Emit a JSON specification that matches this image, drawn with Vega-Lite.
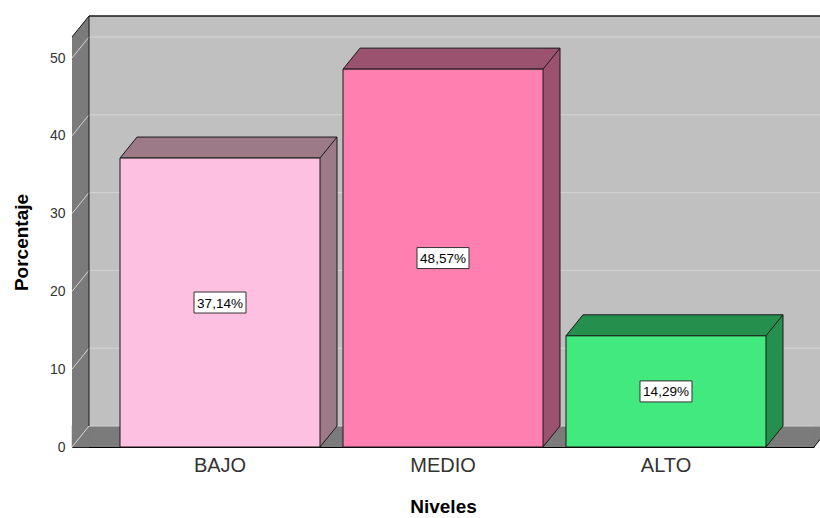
{
  "$schema": "https://vega.github.io/schema/vega-lite/v6.json",
  "autosize": {"type": "none"},
  "padding": {"left": 72, "top": 37, "right": 6, "bottom": 71},
  "width": 742,
  "height": 410,
  "background": "#ffffff",
  "config": {
    "font": "Liberation Sans",
    "view": {"stroke": null},
    "axis": {"zindex": 1}
  },
  "datasets": {
    "niveles": [
      {"Niveles": "BAJO", "Porcentaje": 37.14},
      {"Niveles": "MEDIO", "Porcentaje": 48.57},
      {"Niveles": "ALTO", "Porcentaje": 14.29}
    ],
    "marcas": [
      {"v": 0}, {"v": 10}, {"v": 20}, {"v": 30}, {"v": 40}, {"v": 50}
    ]
  },
  "resolve": {"scale": {"fill": "independent"}},
  "encoding": {
    "x": {
      "field": "Niveles",
      "type": "nominal",
      "sort": ["BAJO", "MEDIO", "ALTO"],
      "scale": {"domain": ["BAJO", "MEDIO", "ALTO"], "paddingInner": 0.103139, "paddingOuter": 0.215247},
      "axis": {
        "title": "Niveles",
        "labelAngle": 0,
        "labelFontSize": 20,
        "labelColor": "#333333",
        "labelPadding": 8,
        "ticks": false,
        "domainColor": "#000000",
        "titleFontSize": 19,
        "titleFontWeight": "bold",
        "titleColor": "#000000",
        "titlePadding": 22
      }
    },
    "y": {
      "field": "Porcentaje",
      "type": "quantitative",
      "scale": {"domain": [0, 52.7], "nice": false, "zero": true},
      "axis": {
        "title": "Porcentaje",
        "values": [0, 10, 20, 30, 40, 50],
        "grid": false,
        "ticks": false,
        "labelFontSize": 14,
        "labelColor": "#333333",
        "labelPadding": 7,
        "domainColor": "#000000",
        "titleFontSize": 19,
        "titleFontWeight": "bold",
        "titleColor": "#000000",
        "titlePadding": 18
      }
    }
  },
  "layer": [
    {
      "description": "back wall",
      "data": {"name": "marcas"},
      "transform": [{"filter": "datum.v == 0"}],
      "mark": {"type": "rect", "fill": "#c0c0c0", "xOffset": 17, "x2Offset": 17, "yOffset": -21, "y2Offset": -21},
      "encoding": {
        "x": {"value": 0},
        "x2": {"value": "width"},
        "y": {"field": "v", "type": "quantitative"},
        "y2": {"value": 0}
      }
    },
    {
      "description": "left wall body",
      "data": {"name": "marcas"},
      "transform": [{"filter": "datum.v == 0"}],
      "mark": {"type": "rect", "fill": "#7b7b7b", "yOffset": -21},
      "encoding": {
        "x": {"value": 0},
        "x2": {"value": 17},
        "y": {"field": "v", "type": "quantitative"},
        "y2": {"value": 0}
      }
    },
    {
      "description": "left wall top corner",
      "data": {"name": "marcas"},
      "transform": [{"filter": "datum.v == 0"}],
      "mark": {"type": "point", "shape": "M0,0L17,-21L17,0Z", "size": 4, "filled": true, "fill": "#7b7b7b", "stroke": "#7b7b7b", "strokeWidth": 0.5, "opacity": 1},
      "encoding": {"x": {"value": 0}, "y": {"value": 0}}
    },
    {
      "description": "left wall bottom corner",
      "data": {"name": "marcas"},
      "transform": [{"filter": "datum.v == 0"}],
      "mark": {"type": "point", "shape": "M0,-21L0,0L17,-21Z", "size": 4, "filled": true, "fill": "#7b7b7b", "stroke": "#7b7b7b", "strokeWidth": 0.5, "opacity": 1},
      "encoding": {"x": {"value": 0}, "y": {"field": "v", "type": "quantitative"}}
    },
    {
      "description": "floor body",
      "data": {"name": "marcas"},
      "transform": [{"filter": "datum.v == 0"}],
      "mark": {"type": "rect", "fill": "#7b7b7b", "xOffset": 17, "yOffset": -21},
      "encoding": {
        "x": {"value": 0},
        "x2": {"value": "width"},
        "y": {"field": "v", "type": "quantitative"},
        "y2": {"value": "height"}
      }
    },
    {
      "description": "floor left corner",
      "data": {"name": "marcas"},
      "transform": [{"filter": "datum.v == 0"}],
      "mark": {"type": "point", "shape": "M0,0L17,-21L17,0Z", "size": 4, "filled": true, "fill": "#7b7b7b", "stroke": "#7b7b7b", "strokeWidth": 0.5, "opacity": 1},
      "encoding": {"x": {"value": 0}, "y": {"field": "v", "type": "quantitative"}}
    },
    {
      "description": "floor right corner",
      "data": {"name": "marcas"},
      "transform": [{"filter": "datum.v == 0"}],
      "mark": {"type": "point", "shape": "M0,0L17,-21L0,-21Z", "size": 4, "filled": true, "fill": "#7b7b7b", "stroke": "#7b7b7b", "strokeWidth": 0.5, "opacity": 1},
      "encoding": {"x": {"value": "width"}, "y": {"field": "v", "type": "quantitative"}}
    },
    {
      "description": "grid lines on the back wall",
      "data": {"name": "marcas"},
      "mark": {"type": "rule", "stroke": "#d4d4d4", "strokeWidth": 1, "xOffset": 17, "x2Offset": 17, "yOffset": -21},
      "encoding": {
        "x": {"value": 0},
        "x2": {"value": "width"},
        "y": {"field": "v", "type": "quantitative"}
      }
    },
    {
      "description": "grid lines on the left wall",
      "data": {"name": "marcas"},
      "mark": {"type": "point", "shape": "M0,0L17,-21", "size": 4, "filled": false, "stroke": "#d4d4d4", "strokeWidth": 1, "opacity": 1},
      "encoding": {
        "x": {"value": 0},
        "y": {"field": "v", "type": "quantitative"}
      }
    },
    {
      "description": "back wall top edge",
      "data": {"name": "marcas"},
      "transform": [{"filter": "datum.v == 0"}],
      "mark": {"type": "rule", "stroke": "#1a1a1a", "strokeWidth": 1.5, "xOffset": 17, "x2Offset": 17, "yOffset": -21},
      "encoding": {
        "x": {"value": 0},
        "x2": {"value": "width"},
        "y": {"value": 0}
      }
    },
    {
      "description": "back wall left edge",
      "data": {"name": "marcas"},
      "transform": [{"filter": "datum.v == 0"}],
      "mark": {"type": "rule", "stroke": "#1a1a1a", "strokeWidth": 1, "xOffset": 17, "yOffset": -21, "y2Offset": -21},
      "encoding": {
        "x": {"value": 0},
        "y": {"field": "v", "type": "quantitative"},
        "y2": {"value": 0}
      }
    },
    {
      "description": "left wall top slant",
      "data": {"name": "marcas"},
      "transform": [{"filter": "datum.v == 0"}],
      "mark": {"type": "point", "shape": "M0,0L17,-21", "size": 4, "filled": false, "stroke": "#1a1a1a", "strokeWidth": 1, "opacity": 1},
      "encoding": {"x": {"value": 0}, "y": {"value": 0}}
    },
    {
      "description": "floor right slant",
      "data": {"name": "marcas"},
      "transform": [{"filter": "datum.v == 0"}],
      "mark": {"type": "point", "shape": "M0,0L17,-21", "size": 4, "filled": false, "stroke": "#1a1a1a", "strokeWidth": 1, "opacity": 1},
      "encoding": {"x": {"value": "width"}, "y": {"field": "v", "type": "quantitative"}}
    },
    {
      "description": "bar side faces",
      "data": {"name": "niveles"},
      "mark": {"type": "bar", "width": 17, "xOffset": 108.5, "yOffset": -21, "y2Offset": -21, "strokeWidth": 0},
      "encoding": {
        "y2": {"datum": 0},
        "fill": {
          "field": "Niveles", "type": "nominal", "legend": null,
          "scale": {"domain": ["BAJO", "MEDIO", "ALTO"], "range": ["#9d7a88", "#9b526f", "#258f4e"]}
        }
      }
    },
    {
      "description": "bar side faces, lower corner",
      "data": {"name": "niveles"},
      "mark": {"type": "point", "shape": "M100,0L100,-21L117,-21Z", "size": 4, "filled": true, "strokeWidth": 0, "opacity": 1},
      "encoding": {
        "y": {"datum": 0},
        "fill": {
          "field": "Niveles", "type": "nominal", "legend": null,
          "scale": {"domain": ["BAJO", "MEDIO", "ALTO"], "range": ["#9d7a88", "#9b526f", "#258f4e"]}
        }
      }
    },
    {
      "description": "bar top faces",
      "data": {"name": "niveles"},
      "mark": {"type": "point", "shape": "M-100,0L-83,-21L117,-21L100,0Z", "size": 4, "filled": true, "stroke": "#1a1a1a", "strokeWidth": 1, "opacity": 1},
      "encoding": {
        "fill": {
          "field": "Niveles", "type": "nominal", "legend": null,
          "scale": {"domain": ["BAJO", "MEDIO", "ALTO"], "range": ["#9d7a88", "#9b526f", "#258f4e"]}
        }
      }
    },
    {
      "description": "bar back vertical edges",
      "data": {"name": "niveles"},
      "mark": {"type": "rule", "stroke": "#1a1a1a", "strokeWidth": 1, "xOffset": 117, "yOffset": -21, "y2Offset": -21},
      "encoding": {"y2": {"datum": 0}}
    },
    {
      "description": "bar lower slant edges",
      "data": {"name": "niveles"},
      "mark": {"type": "point", "shape": "M100,0L117,-21", "size": 4, "filled": false, "stroke": "#1a1a1a", "strokeWidth": 1, "opacity": 1},
      "encoding": {"y": {"datum": 0}}
    },
    {
      "description": "bar front faces",
      "data": {"name": "niveles"},
      "mark": {"type": "bar", "stroke": "#1a1a1a", "strokeWidth": 1},
      "encoding": {
        "fill": {
          "field": "Niveles", "type": "nominal", "legend": null,
          "scale": {"domain": ["BAJO", "MEDIO", "ALTO"], "range": ["#fdc0e0", "#fe7fb0", "#41e97f"]}
        }
      }
    },
    {
      "description": "value label boxes",
      "data": {"name": "niveles"},
      "transform": [{"calculate": "datum.Porcentaje / 2", "as": "Mitad"}],
      "mark": {"type": "point", "shape": "M-26,-10.5L26,-10.5L26,10.5L-26,10.5Z", "size": 4, "filled": true, "fill": "#ffffff", "stroke": "#333333", "strokeWidth": 1, "opacity": 1},
      "encoding": {"y": {"field": "Mitad", "type": "quantitative"}}
    },
    {
      "description": "value labels",
      "data": {"name": "niveles"},
      "transform": [
        {"calculate": "datum.Porcentaje / 2", "as": "Mitad"},
        {"calculate": "replace(format(datum.Porcentaje, '.2f'), '.', ',') + '%'", "as": "Etiqueta"}
      ],
      "mark": {"type": "text", "fontSize": 13.5, "color": "#000000", "align": "center", "baseline": "middle", "dy": 1},
      "encoding": {
        "y": {"field": "Mitad", "type": "quantitative"},
        "text": {"field": "Etiqueta", "type": "nominal"}
      }
    }
  ]
}
